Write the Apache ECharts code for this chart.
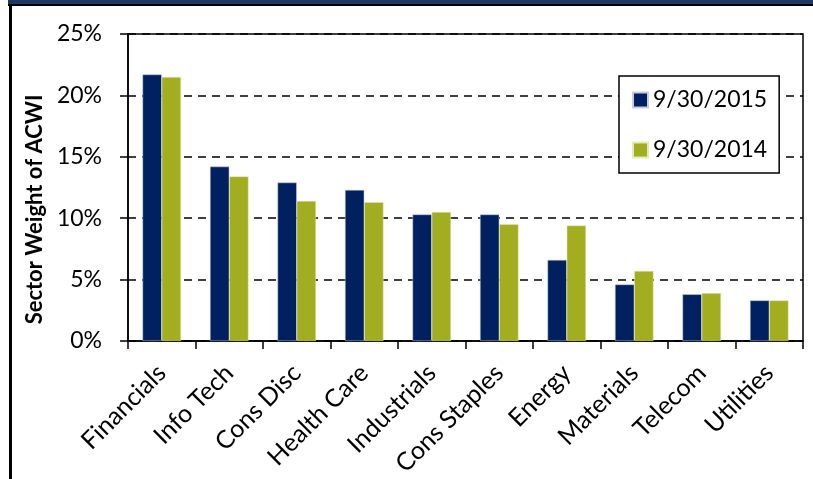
<!DOCTYPE html>
<html>
<head>
<meta charset="utf-8">
<script src="https://cdn.jsdelivr.net/npm/echarts@6/dist/echarts.min.js"></script>
<style>
html,body{margin:0;padding:0;background:#fff;}
#chart{width:813px;height:479px;}
</style>
</head>
<body>
<div id="chart"></div>
<script>
const categories = ['Financials','Info Tech','Cons Disc','Health Care','Industrials','Cons Staples','Energy','Materials','Telecom','Utilities'];
const series2015 = [21.7, 14.2, 12.9, 12.3, 10.3, 10.3, 6.6, 4.6, 3.8, 3.3];
const series2014 = [21.5, 13.4, 11.4, 11.3, 10.5, 9.5, 9.4, 5.7, 3.9, 3.3];
const seriesNames = ['9/30/2015', '9/30/2014'];
const yTicks = [0, 5, 10, 15, 20, 25];

const FONT = 'Lato';
const chart = echarts.init(document.getElementById('chart'), null, {renderer: 'canvas'});
chart.setOption({
  animation: false,
  backgroundColor: '#fff',
  textStyle: {fontFamily: FONT},
  graphic: [
    {type: 'rect', shape: {x: 8, y: 0, width: 805, height: 4}, style: {fill: '#1F3864'}, silent: true},
    {type: 'rect', shape: {x: 8, y: 4, width: 805, height: 2}, style: {fill: '#000'}, silent: true},
    {type: 'rect', shape: {x: 9, y: 4, width: 3, height: 475}, style: {fill: '#000'}, silent: true}
  ],
  grid: {
    left: 128, top: 34, right: 10, bottom: 137,
    show: true, borderColor: '#000', borderWidth: 1.5, backgroundColor: 'transparent'
  },
  legend: {
    orient: 'vertical',
    left: 619, top: 76,
    padding: [12, 12, 11, 13],
    itemGap: 26,
    itemWidth: 15, itemHeight: 15,
    icon: 'rect',
    backgroundColor: '#fff',
    borderColor: '#000', borderWidth: 1.5,
    textStyle: {fontFamily: FONT, fontSize: 23, color: '#000', lineHeight: 24},
    data: seriesNames
  },
  xAxis: {
    type: 'category',
    data: categories,
    axisLine: {lineStyle: {color: '#000', width: 1.5}},
    axisTick: {show: true, length: 8, lineStyle: {color: '#000', width: 1.5}},
    axisLabel: {interval: 0, rotate: 45, margin: 28, fontSize: 25, color: '#000', fontFamily: FONT}
  },
  yAxis: {
    type: 'value',
    min: yTicks[0], max: yTicks[yTicks.length - 1], interval: 5,
    name: 'Sector Weight of ACWI',
    nameLocation: 'middle',
    nameGap: 79,
    nameTextStyle: {fontSize: 22, fontWeight: 'bold', color: '#000', fontFamily: FONT, padding: [0, 44, 0, 0]},
    axisLine: {show: true, lineStyle: {color: '#000', width: 1.5}},
    axisTick: {show: true, length: 8, lineStyle: {color: '#000', width: 1.5}},
    axisLabel: {formatter: '{value}%', fontSize: 23, color: '#000', margin: 26, fontFamily: FONT},
    splitLine: {show: true, lineStyle: {color: '#000', width: 1.5, type: [8, 6]}}
  },
  series: [
    {name: seriesNames[0], type: 'bar', data: series2015, barGap: '0%', barCategoryGap: '43%',
     itemStyle: {color: '#00205F', borderColor: '#c8cce0', borderWidth: 0.5}},
    {name: seriesNames[1], type: 'bar', data: series2014, barGap: '0%', barCategoryGap: '43%',
     itemStyle: {color: '#A3AD20', borderColor: '#e6eab8', borderWidth: 0.5}}
  ]
});
</script>
</body>
</html>
